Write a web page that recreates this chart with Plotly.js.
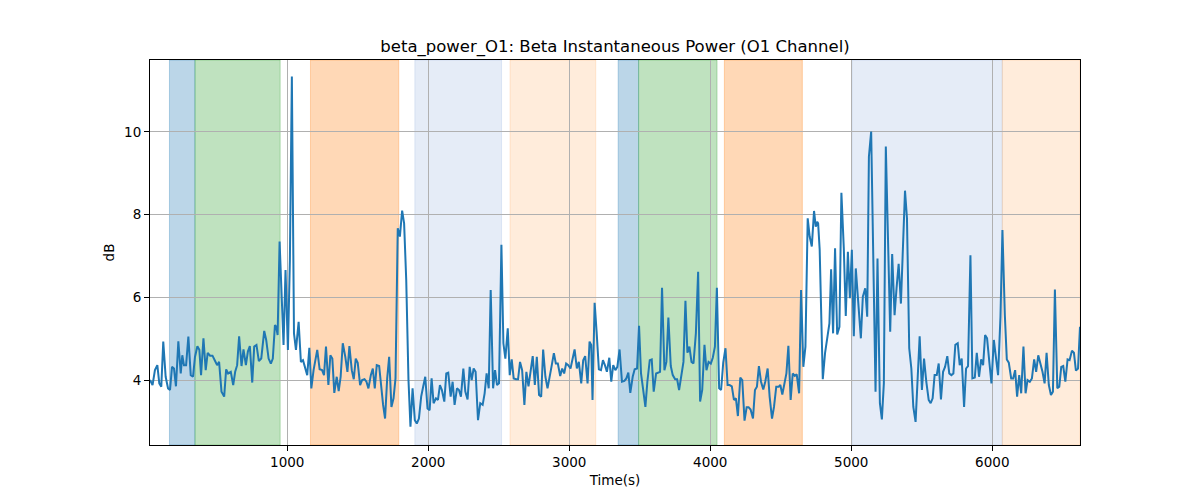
<!DOCTYPE html>
<html>
<head>
<meta charset="utf-8">
<script src="https://cdn.plot.ly/plotly-3.0.1.min.js"></script>
<style>
  html, body { margin: 0; padding: 0; background: #fff; }
  #chart { width: 1200px; height: 500px; }
</style>
</head>
<body>
<div id="chart"></div>
<script>
// time stamps (s) of the trace
var times = [
  27, 45, 62, 79, 93, 107, 121, 138, 155, 169, 183, 197, 211, 228, 245, 256, 268, 283, 299, 316,
  332, 346, 363, 377, 389, 406, 422, 436, 453, 470, 486, 503, 517, 534, 553, 567, 581, 600, 617, 631,
  645, 659, 676, 690, 707, 721, 735, 752, 766, 782, 799, 816, 837, 851, 868, 884, 898, 913, 922, 932,
  946, 960, 974, 988, 1005, 1019, 1033, 1048, 1062, 1081, 1097, 1112, 1131, 1142, 1157, 1171, 1187, 1213, 1230, 1247,
  1261, 1275, 1292, 1306, 1320, 1334, 1351, 1365, 1379, 1394, 1412, 1427, 1441, 1458, 1472, 1486, 1500, 1517, 1531, 1548,
  1562, 1576, 1593, 1607, 1621, 1635, 1652, 1666, 1680, 1694, 1709, 1723, 1739, 1754, 1768, 1784, 1799, 1815, 1829, 1844,
  1860, 1874, 1889, 1905, 1919, 1934, 1950, 1964, 1979, 1995, 2010, 2024, 2038, 2055, 2069, 2083, 2097, 2114, 2128, 2142,
  2159, 2173, 2187, 2204, 2218, 2232, 2249, 2263, 2279, 2294, 2308, 2322, 2336, 2353, 2369, 2386, 2400, 2414, 2429, 2443,
  2460, 2474, 2488, 2502, 2519, 2533, 2547, 2564, 2578, 2592, 2606, 2623, 2637, 2651, 2666, 2682, 2696, 2711, 2727, 2741,
  2756, 2770, 2786, 2801, 2815, 2831, 2846, 2860, 2874, 2891, 2905, 2919, 2936, 2950, 2964, 2978, 2993, 3009, 3023, 3038,
  3054, 3068, 3085, 3099, 3113, 3130, 3144, 3156, 3165, 3180, 3194, 3210, 3225, 3239, 3253, 3267, 3284, 3298, 3312, 3327,
  3341, 3357, 3374, 3391, 3405, 3419, 3433, 3450, 3464, 3481, 3495, 3509, 3523, 3540, 3554, 3571, 3585, 3599, 3616, 3630,
  3644, 3658, 3675, 3689, 3703, 3720, 3734, 3751, 3765, 3779, 3793, 3810, 3824, 3838, 3852, 3867, 3881, 3898, 3914, 3928,
  3943, 3959, 3973, 3988, 4004, 4018, 4033, 4047, 4063, 4077, 4092, 4108, 4123, 4137, 4153, 4168, 4182, 4196, 4213, 4227,
  4243, 4258, 4272, 4286, 4303, 4317, 4331, 4345, 4360, 4376, 4390, 4407, 4421, 4438, 4452, 4468, 4485, 4497, 4511, 4525,
  4540, 4554, 4570, 4585, 4599, 4613, 4630, 4644, 4660, 4675, 4691, 4705, 4720, 4736, 4748, 4758, 4765, 4776, 4786, 4798,
  4814, 4829, 4845, 4857, 4871, 4885, 4900, 4916, 4930, 4947, 4961, 4976, 4990, 5004, 5018, 5032, 5049, 5068, 5082, 5099,
  5113, 5125, 5141, 5158, 5172, 5186, 5203, 5217, 5231, 5245, 5260, 5276, 5290, 5307, 5321, 5336, 5352, 5366, 5381, 5395,
  5411, 5426, 5440, 5456, 5471, 5485, 5501, 5516, 5532, 5549, 5563, 5577, 5591, 5606, 5620, 5636, 5651, 5665, 5681, 5695,
  5710, 5724, 5738, 5755, 5769, 5783, 5800, 5814, 5828, 5845, 5859, 5876, 5890, 5906, 5921, 5935, 5949, 5963, 5980, 5994,
  6011, 6025, 6041, 6058, 6072, 6089, 6103, 6117, 6134, 6148, 6162, 6176, 6191, 6205, 6221, 6236, 6250, 6266, 6281, 6297,
  6311, 6326, 6340, 6356, 6371, 6385, 6401, 6416, 6430, 6444, 6461, 6475, 6489, 6503, 6518, 6534, 6548, 6565, 6579, 6593,
  6608, 6622
];

// beta power in dB at those times
var betaDb = [
  4.00, 3.88, 4.24, 4.36, 3.92, 3.84, 4.93, 4.08, 3.80, 3.76, 4.32, 4.28, 3.85, 4.94, 4.16, 4.60, 4.36, 4.36, 5.05, 4.12,
  4.08, 4.56, 4.82, 4.73, 4.12, 5.01, 4.24, 4.66, 4.59, 4.59, 4.48, 4.36, 4.44, 3.72, 3.60, 4.26, 4.16, 4.20, 3.88, 4.20,
  4.36, 5.06, 4.34, 4.74, 4.36, 4.69, 4.82, 3.94, 4.81, 4.85, 4.46, 4.52, 5.19, 4.97, 4.52, 4.40, 4.52, 5.33, 5.29, 5.09,
  7.35, 6.26, 4.85, 6.66, 4.73, 6.90, 11.34, 5.13, 4.73, 5.41, 4.44, 4.48, 4.28, 4.12, 4.78, 3.80, 4.24, 4.73, 4.26, 4.24,
  4.12, 4.81, 3.88, 4.60, 4.52, 3.69, 4.08, 3.73, 4.08, 4.89, 4.56, 4.20, 4.82, 4.24, 4.02, 4.52, 4.42, 3.88, 4.00, 4.02,
  3.96, 3.80, 4.12, 4.28, 3.80, 4.36, 4.34, 3.80, 3.40, 3.07, 4.04, 4.56, 3.35, 3.56, 4.04, 7.67, 7.47, 8.10, 7.79, 6.42,
  4.00, 2.87, 3.80, 3.03, 2.95, 3.07, 3.60, 3.84, 4.08, 3.31, 3.27, 4.04, 3.44, 3.56, 3.52, 3.88, 3.76, 3.48, 4.16, 4.18,
  3.60, 3.96, 3.40, 3.80, 3.76, 3.60, 4.28, 3.72, 3.53, 4.32, 4.00, 4.28, 4.20, 3.03, 3.44, 3.40, 3.68, 4.16, 3.80, 6.18,
  3.80, 4.24, 3.88, 3.92, 7.27, 4.89, 4.52, 5.25, 4.12, 4.50, 4.04, 4.02, 4.02, 4.44, 4.24, 3.40, 4.20, 3.85, 4.26, 4.58,
  3.88, 4.56, 3.64, 3.60, 4.74, 4.08, 3.80, 4.02, 4.32, 4.65, 4.40, 4.40, 4.10, 4.28, 4.16, 4.40, 4.36, 4.28, 4.54, 4.74,
  4.28, 4.44, 3.92, 4.48, 4.58, 3.92, 4.93, 4.85, 3.52, 5.87, 5.17, 4.26, 4.24, 4.48, 4.36, 4.20, 4.54, 3.96, 4.36, 4.24,
  4.32, 4.74, 3.96, 3.98, 4.04, 4.18, 3.69, 4.08, 4.26, 4.28, 5.31, 4.16, 3.80, 3.35, 3.96, 4.48, 4.50, 3.72, 4.16, 4.18,
  4.20, 6.23, 4.24, 4.44, 5.51, 4.34, 4.12, 4.02, 4.02, 3.76, 4.04, 4.44, 5.92, 4.66, 4.81, 4.44, 4.40, 5.13, 6.62, 3.48,
  3.76, 4.85, 4.24, 4.44, 4.40, 4.54, 4.81, 6.23, 3.80, 3.76, 4.42, 4.77, 3.88, 3.88, 3.85, 3.52, 3.56, 3.13, 4.06, 4.00,
  3.02, 3.34, 3.34, 3.29, 3.07, 3.76, 3.84, 4.34, 3.96, 3.77, 3.96, 4.28, 3.60, 3.07, 3.35, 3.84, 3.84, 3.88, 3.65, 3.92,
  4.16, 4.83, 3.52, 4.16, 4.10, 4.14, 3.68, 6.18, 4.32, 4.81, 7.91, 7.47, 7.23, 8.09, 7.71, 7.83, 7.79, 7.15, 5.94, 4.02,
  4.65, 4.97, 5.37, 6.68, 5.13, 7.19, 5.10, 5.29, 8.53, 7.19, 5.55, 7.10, 5.98, 7.15, 5.06, 6.70, 5.81, 5.01, 6.02, 6.22,
  5.53, 9.40, 10.01, 6.58, 3.72, 6.94, 3.44, 3.05, 3.92, 9.65, 7.27, 5.17, 7.05, 5.57, 6.22, 6.81, 5.85, 7.06, 8.58, 7.91,
  4.77, 4.28, 3.35, 2.99, 4.00, 5.06, 3.76, 4.52, 3.96, 3.52, 3.44, 3.56, 4.12, 4.12, 4.40, 3.53, 4.20, 4.32, 4.58, 4.16,
  4.12, 4.16, 4.85, 4.89, 4.36, 4.52, 3.35, 4.28, 4.34, 7.02, 4.04, 4.06, 4.66, 4.08, 4.50, 4.36, 5.09, 5.01, 4.40, 3.92,
  4.97, 4.62, 4.12, 5.53, 7.63, 5.57, 4.50, 4.42, 4.04, 4.04, 4.24, 3.60, 4.12, 3.68, 4.81, 3.68, 4.00, 3.96, 4.04, 4.50,
  4.20, 4.60, 4.44, 4.20, 3.92, 4.66, 3.88, 3.64, 3.72, 6.19, 3.80, 3.84, 4.32, 4.34, 3.96, 4.50, 4.48, 4.71, 4.66, 4.23,
  4.28, 5.29
];

// shaded stages: start, end (s) and stage kind
var spanStart = [165, 346, 1165, 1905, 2580, 3347, 3492, 4100, 5008, 6071];
var spanEnd   = [346, 950, 1791, 2520, 3188, 3492, 4048, 4653, 6071, 6622];
var spanKind  = ['a', 'b', 'c', 'd', 'e', 'a', 'b', 'c', 'd', 'e'];

var xTicks = [1000, 2000, 3000, 4000, 5000, 6000];
var yTicks = [4, 6, 8, 10];

var kindColor = {
  a: 'rgba(31,119,180,0.3)',
  b: 'rgba(44,160,44,0.3)',
  c: 'rgba(255,127,14,0.3)',
  d: 'rgba(110,150,210,0.18)',
  e: 'rgba(255,127,14,0.15)'
};

var shapes = spanStart.map(function (s, i) {
  var c = kindColor[spanKind[i]];
  return {
    type: 'rect', xref: 'x', yref: 'paper',
    x0: s, x1: spanEnd[i], y0: 0, y1: 1,
    fillcolor: c,
    line: { color: c, width: 1 },
    layer: 'below'
  };
});

var trace = {
  x: times,
  y: betaDb,
  type: 'scatter',
  mode: 'lines',
  line: { color: '#1f77b4', width: 2 },
  hoverinfo: 'x+y'
};

var axisCommon = {
  showline: true, mirror: true, linecolor: '#000', linewidth: 1,
  ticks: 'outside', ticklen: 5, tickwidth: 1, tickcolor: '#000',
  showgrid: true, gridcolor: '#b0b0b0', gridwidth: 1,
  zeroline: false,
  tickfont: { family: 'DejaVu Sans', size: 13.5, color: '#000' }
};

var layout = {
  width: 1200, height: 500,
  margin: { l: 150, r: 120, t: 60, b: 55 },
  paper_bgcolor: '#fff', plot_bgcolor: 'rgba(0,0,0,0)',
  showlegend: false,
  font: { family: 'DejaVu Sans', color: '#000' },
  title: {
    text: 'beta_power_O1: Beta Instantaneous Power (O1 Channel)',
    font: { family: 'DejaVu Sans', size: 16.5, color: '#000' },
    x: 0.5125, xanchor: 'center', y: 0.907, yanchor: 'middle'
  },
  xaxis: Object.assign({}, axisCommon, {
    range: [times[0], times[times.length - 1]],
    tickvals: xTicks,
    title: { text: 'Time(s)', font: { family: 'DejaVu Sans', size: 13.5 }, standoff: 6 }
  }),
  yaxis: Object.assign({}, axisCommon, {
    range: [2.43, 11.74],
    tickvals: yTicks,
    title: { text: 'dB', font: { family: 'DejaVu Sans', size: 13.5 }, standoff: 6 }
  }),
  shapes: shapes
};

Plotly.newPlot('chart', [trace], layout, { displayModeBar: false, staticPlot: true });
</script>
</body>
</html>
